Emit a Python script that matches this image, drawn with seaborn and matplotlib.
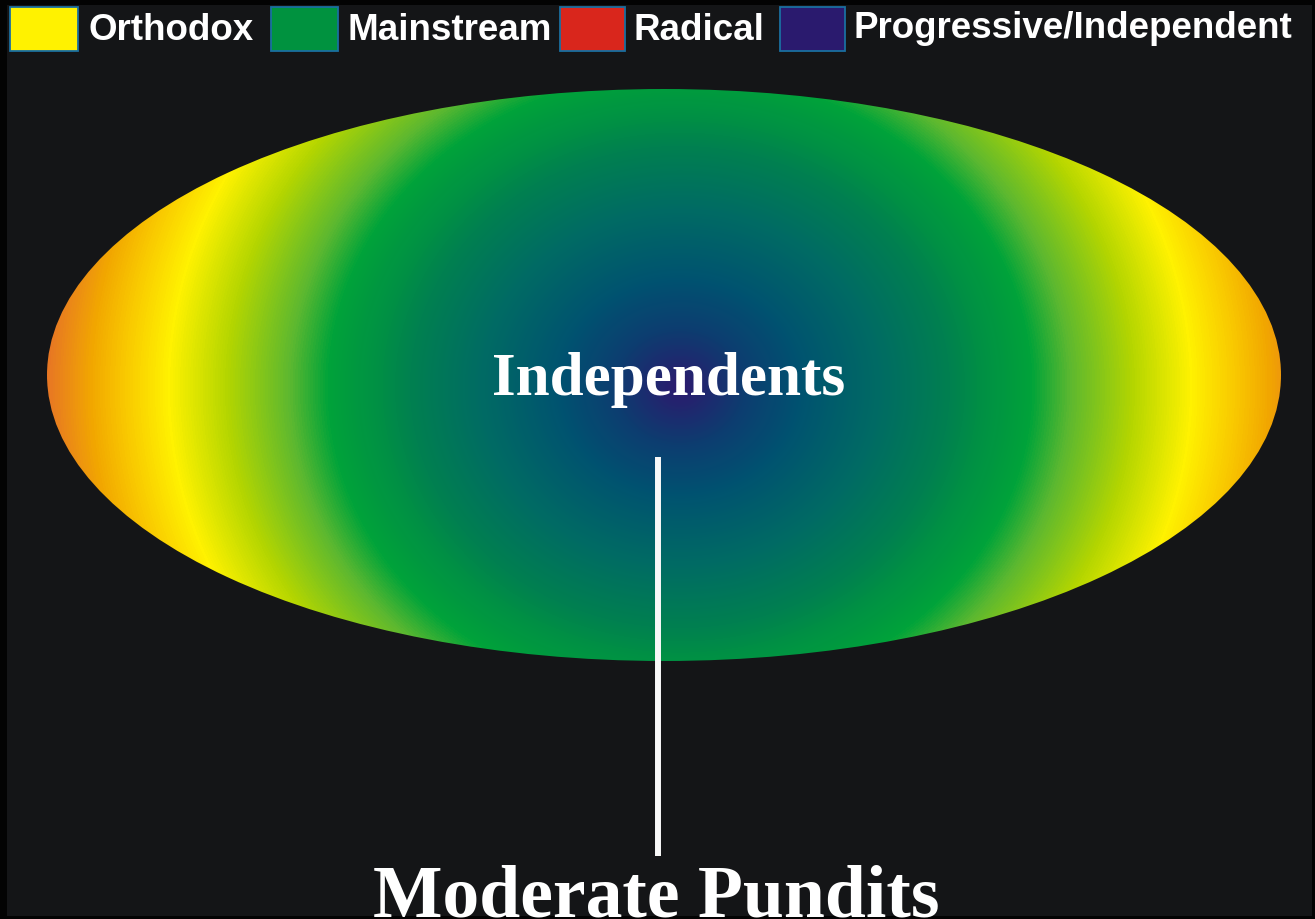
import numpy as np
import matplotlib
matplotlib.use("Agg")
import matplotlib.pyplot as plt
import seaborn as sns
from matplotlib.patches import Ellipse, Rectangle
from matplotlib.colors import LinearSegmentedColormap

# data: legend entries and the colour stops of the radial gradient
legend_labels = ["Orthodox", "Mainstream", "Radical", "Progressive/Independent"]
legend_colors = ["#fff200", "#00923f", "#d9261c", "#2a1a6e"]

stop_pos = [0.00, 0.10, 0.19, 0.31, 0.42, 0.47, 0.55, 0.61, 0.71, 0.80, 0.87, 0.92, 0.985, 1.0]
stop_colors = ["#2c1a6e", "#0d3d70", "#005370", "#006b64", "#008050", "#008f45", "#00a33a",
               "#5cb830", "#b5d600", "#fff200", "#f9c800", "#f2a800", "#e87a22", "#e57025"]

center_label = "Independents"
bottom_label = "Moderate Pundits"

sns.set_theme(style="white")
plt.rcParams['font.family'] = ['Liberation Sans', 'DejaVu Sans']

W, H = 1315, 920
fig = plt.figure(figsize=(W / 100, H / 100), dpi=100, facecolor="#030303")
ax = fig.add_axes([0, 0, 1, 1])
ax.set_xlim(0, W)
ax.set_ylim(H, 0)
ax.axis("off")

# dark panel
ax.add_patch(Rectangle((7, 6), 1305, 911, facecolor="#141517", edgecolor="none", zorder=0))

# gradient ellipse
cmap = LinearSegmentedColormap.from_list("pundits", list(zip(stop_pos, stop_colors)))
xs = np.arange(0, W) + 0.5
ys = np.arange(0, H) + 0.5
gx, gy = np.meshgrid(xs, ys)
r = np.sqrt((gx - 680) ** 2 + ((gy - 388) * 1.12) ** 2) / 640
r = np.clip(r, 0, 1)
img = ax.imshow(r, cmap=cmap, vmin=0, vmax=1, extent=(0, W, H, 0), zorder=1,
                interpolation="bilinear")
ell = Ellipse((664, 376), 1234, 572, facecolor="none", edgecolor="none", transform=ax.transData)
ax.add_patch(ell)
img.set_clip_path(ell)

# legend squares and labels
sq_x = [10, 271, 560, 780]
sq_w = [68, 67, 65, 65]
txt_x = [88, 347, 633, 853]
txt_y = [31, 31, 31, 28]
for lab, col, x, w, tx, ty in zip(legend_labels, legend_colors, sq_x, sq_w, txt_x, txt_y):
    ax.add_patch(Rectangle((x, 8), w, 44, facecolor=col, edgecolor="#1a6fa0", lw=1.3, zorder=3))
    ax.text(tx, ty, lab, color="white", fontsize=26.5, fontweight="bold", va="center",
            ha="left", zorder=4)

# labels and pointer line
ax.text(669, 395, center_label, color="white", fontsize=44, family="Liberation Serif",
        fontweight="bold", ha="center", va="baseline", zorder=4)
ax.plot([658, 658], [458, 857], color="#f8f8f8", lw=4.3, solid_capstyle="butt", zorder=4)
ax.text(656, 917, bottom_label, color="white", fontsize=53, family="Liberation Serif",
        fontweight="bold", ha="center", va="baseline", zorder=4)

fig.savefig("out.png", dpi=100, facecolor=fig.get_facecolor())
